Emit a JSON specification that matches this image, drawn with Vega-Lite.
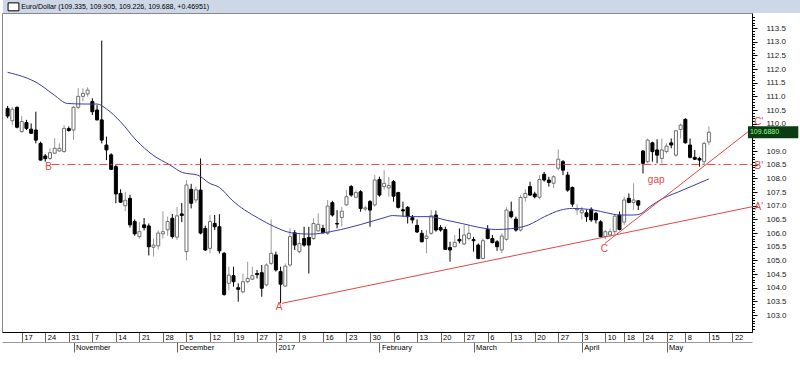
{
  "$schema": "https://vega.github.io/schema/vega-lite/v6.json",
  "width": 750,
  "height": 319,
  "autosize": {"type": "none"},
  "padding": {"top": 13, "left": 2, "right": 48, "bottom": 35},
  "background": "#ffffff",
  "config": {
    "view": {"stroke": "#888888", "strokeWidth": 1},
    "axis": {"labelFont": "Liberation Sans", "labelFontSize": 7.5, "labelColor": "#000000", "tickColor": "#000000", "domainColor": "#000000", "grid": false, "title": null}
  },
  "datasets": {
    "k": [
      {"i":0,"o":110.56,"h":110.65,"l":110.20,"c":110.28},
      {"i":1,"o":110.11,"h":110.62,"l":109.95,"c":110.53},
      {"i":2,"o":110.60,"h":110.63,"l":109.83,"c":109.87},
      {"i":3,"o":109.71,"h":110.28,"l":109.67,"c":110.08},
      {"i":4,"o":110.04,"h":110.14,"l":109.77,"c":109.83},
      {"i":5,"o":109.80,"h":110.01,"l":109.63,"c":109.65},
      {"i":6,"o":109.77,"h":110.44,"l":109.28,"c":109.40},
      {"i":7,"o":109.28,"h":109.34,"l":108.65,"c":108.67},
      {"i":8,"o":108.82,"h":108.89,"l":108.61,"c":108.72},
      {"i":9,"o":108.73,"h":109.10,"l":108.67,"c":108.94},
      {"i":10,"o":108.92,"h":109.47,"l":108.90,"c":109.10},
      {"i":11,"o":109.00,"h":109.28,"l":108.98,"c":109.10},
      {"i":12,"o":108.98,"h":109.95,"l":108.94,"c":109.83},
      {"i":13,"o":109.82,"h":109.90,"l":109.71,"c":109.75},
      {"i":14,"o":109.77,"h":110.65,"l":109.41,"c":110.60},
      {"i":15,"o":110.60,"h":111.30,"l":110.53,"c":111.00},
      {"i":16,"o":111.00,"h":111.30,"l":110.81,"c":111.11},
      {"i":17,"o":111.09,"h":111.33,"l":110.99,"c":111.23},
      {"i":18,"o":110.81,"h":110.93,"l":110.32,"c":110.44},
      {"i":19,"o":110.50,"h":110.68,"l":110.12,"c":110.14},
      {"i":20,"o":110.14,"h":113.04,"l":109.28,"c":109.40},
      {"i":21,"o":109.22,"h":109.53,"l":108.67,"c":109.04},
      {"i":22,"o":108.86,"h":108.92,"l":108.31,"c":108.33},
      {"i":23,"o":108.43,"h":108.49,"l":107.09,"c":107.43},
      {"i":24,"o":107.45,"h":107.60,"l":107.10,"c":107.13},
      {"i":25,"o":107.00,"h":107.50,"l":106.80,"c":107.20},
      {"i":26,"o":107.27,"h":107.40,"l":106.20,"c":106.30},
      {"i":27,"o":106.42,"h":106.50,"l":105.90,"c":105.97},
      {"i":28,"o":105.87,"h":106.40,"l":105.80,"c":106.05},
      {"i":29,"o":106.30,"h":106.55,"l":106.10,"c":106.20},
      {"i":30,"o":106.26,"h":106.35,"l":105.18,"c":105.50},
      {"i":31,"o":105.48,"h":105.80,"l":105.14,"c":105.56},
      {"i":32,"o":105.53,"h":106.10,"l":105.40,"c":106.00},
      {"i":33,"o":105.97,"h":106.80,"l":105.80,"c":106.05},
      {"i":34,"o":106.12,"h":106.60,"l":105.90,"c":106.42},
      {"i":35,"o":106.54,"h":106.70,"l":105.80,"c":105.87},
      {"i":36,"o":105.85,"h":106.95,"l":105.75,"c":106.63},
      {"i":37,"o":106.70,"h":107.10,"l":106.40,"c":106.64},
      {"i":38,"o":105.32,"h":107.94,"l":105.00,"c":107.76},
      {"i":39,"o":107.60,"h":107.80,"l":106.90,"c":107.09},
      {"i":40,"o":107.21,"h":107.70,"l":107.10,"c":107.58},
      {"i":41,"o":107.57,"h":108.73,"l":105.95,"c":106.00},
      {"i":42,"o":106.17,"h":106.27,"l":105.35,"c":105.38},
      {"i":43,"o":105.44,"h":106.66,"l":105.26,"c":106.42},
      {"i":44,"o":106.35,"h":106.66,"l":106.11,"c":106.23},
      {"i":45,"o":106.23,"h":106.69,"l":105.25,"c":105.35},
      {"i":46,"o":105.26,"h":105.30,"l":103.71,"c":103.75},
      {"i":47,"o":104.16,"h":104.77,"l":103.91,"c":104.46},
      {"i":48,"o":104.44,"h":104.77,"l":104.04,"c":104.22},
      {"i":49,"o":104.00,"h":104.16,"l":103.49,"c":103.94},
      {"i":50,"o":103.85,"h":104.52,"l":103.79,"c":104.22},
      {"i":51,"o":104.22,"h":104.95,"l":104.16,"c":104.34},
      {"i":52,"o":104.31,"h":104.77,"l":104.28,"c":104.44},
      {"i":53,"o":104.52,"h":104.65,"l":104.34,"c":104.48},
      {"i":54,"o":104.55,"h":104.83,"l":103.67,"c":103.98},
      {"i":55,"o":104.10,"h":104.89,"l":104.04,"c":104.83},
      {"i":56,"o":104.89,"h":106.50,"l":104.83,"c":105.26},
      {"i":57,"o":105.20,"h":105.32,"l":104.59,"c":104.65},
      {"i":58,"o":104.59,"h":104.77,"l":103.43,"c":104.13},
      {"i":59,"o":104.06,"h":104.89,"l":104.04,"c":104.79},
      {"i":60,"o":104.83,"h":106.17,"l":104.77,"c":105.87},
      {"i":61,"o":106.01,"h":106.11,"l":105.38,"c":105.56},
      {"i":62,"o":105.32,"h":105.99,"l":105.26,"c":105.62},
      {"i":63,"o":105.80,"h":106.23,"l":105.50,"c":105.56},
      {"i":64,"o":105.84,"h":106.23,"l":104.52,"c":105.56},
      {"i":65,"o":105.80,"h":106.54,"l":105.74,"c":106.35},
      {"i":66,"o":106.08,"h":106.72,"l":106.05,"c":106.32},
      {"i":67,"o":106.17,"h":106.30,"l":105.99,"c":106.01},
      {"i":68,"o":105.99,"h":107.21,"l":105.93,"c":106.99},
      {"i":69,"o":107.11,"h":107.18,"l":106.60,"c":106.66},
      {"i":70,"o":106.35,"h":106.84,"l":106.17,"c":106.33},
      {"i":71,"o":106.57,"h":106.96,"l":106.23,"c":106.80},
      {"i":72,"o":107.03,"h":107.57,"l":107.00,"c":107.33},
      {"i":73,"o":107.70,"h":107.76,"l":107.33,"c":107.39},
      {"i":74,"o":107.31,"h":107.57,"l":107.27,"c":107.48},
      {"i":75,"o":107.51,"h":107.57,"l":106.78,"c":106.90},
      {"i":76,"o":106.88,"h":107.00,"l":106.80,"c":106.92},
      {"i":77,"o":107.15,"h":107.21,"l":106.23,"c":106.84},
      {"i":78,"o":107.03,"h":108.12,"l":106.96,"c":107.94},
      {"i":79,"o":107.96,"h":108.06,"l":107.33,"c":107.39},
      {"i":80,"o":107.70,"h":108.30,"l":107.58,"c":107.82},
      {"i":81,"o":107.65,"h":108.05,"l":107.33,"c":107.74},
      {"i":82,"o":107.88,"h":107.94,"l":107.15,"c":107.35},
      {"i":83,"o":107.48,"h":107.51,"l":106.90,"c":106.94},
      {"i":84,"o":106.85,"h":107.15,"l":106.60,"c":106.81},
      {"i":85,"o":106.94,"h":106.99,"l":106.35,"c":106.60},
      {"i":86,"o":106.56,"h":106.66,"l":106.35,"c":106.48},
      {"i":87,"o":106.28,"h":106.50,"l":106.00,"c":106.04},
      {"i":88,"o":105.99,"h":106.11,"l":105.66,"c":105.68},
      {"i":89,"o":105.80,"h":106.11,"l":105.26,"c":105.89},
      {"i":90,"o":105.99,"h":106.84,"l":105.93,"c":106.63},
      {"i":91,"o":106.66,"h":106.82,"l":106.05,"c":106.11},
      {"i":92,"o":106.20,"h":106.29,"l":106.05,"c":106.11},
      {"i":93,"o":106.13,"h":106.23,"l":105.38,"c":105.40},
      {"i":94,"o":105.47,"h":105.68,"l":104.95,"c":105.38},
      {"i":95,"o":105.50,"h":105.93,"l":105.48,"c":105.66},
      {"i":96,"o":105.77,"h":106.17,"l":105.62,"c":105.71},
      {"i":97,"o":105.60,"h":106.29,"l":105.56,"c":105.93},
      {"i":98,"o":105.80,"h":106.29,"l":105.74,"c":105.99},
      {"i":99,"o":105.76,"h":105.86,"l":105.32,"c":105.72},
      {"i":100,"o":105.56,"h":105.62,"l":105.04,"c":105.07},
      {"i":101,"o":105.07,"h":105.80,"l":105.04,"c":105.72},
      {"i":102,"o":106.13,"h":106.29,"l":105.77,"c":105.80},
      {"i":103,"o":105.80,"h":105.93,"l":105.62,"c":105.65},
      {"i":104,"o":105.68,"h":105.74,"l":105.35,"c":105.50},
      {"i":105,"o":105.38,"h":105.99,"l":105.26,"c":105.89},
      {"i":106,"o":105.77,"h":106.94,"l":105.72,"c":106.84},
      {"i":107,"o":106.78,"h":107.15,"l":106.54,"c":106.60},
      {"i":108,"o":106.51,"h":106.60,"l":106.05,"c":106.11},
      {"i":109,"o":106.11,"h":107.40,"l":106.05,"c":107.30},
      {"i":110,"o":107.30,"h":107.60,"l":107.15,"c":107.45},
      {"i":111,"o":107.70,"h":107.88,"l":107.36,"c":107.39},
      {"i":112,"o":107.43,"h":107.51,"l":107.27,"c":107.33},
      {"i":113,"o":107.31,"h":108.12,"l":107.23,"c":107.96},
      {"i":114,"o":108.15,"h":108.24,"l":107.88,"c":107.94},
      {"i":115,"o":107.94,"h":108.06,"l":107.70,"c":107.85},
      {"i":116,"o":107.82,"h":108.12,"l":107.64,"c":108.06},
      {"i":117,"o":108.37,"h":109.06,"l":108.30,"c":108.70},
      {"i":118,"o":108.61,"h":108.67,"l":108.12,"c":108.30},
      {"i":119,"o":108.12,"h":108.24,"l":107.51,"c":107.57},
      {"i":120,"o":107.67,"h":107.70,"l":106.96,"c":107.06},
      {"i":121,"o":106.85,"h":107.05,"l":106.66,"c":106.89},
      {"i":122,"o":106.74,"h":106.96,"l":106.50,"c":106.84},
      {"i":123,"o":106.74,"h":106.86,"l":106.41,"c":106.60},
      {"i":124,"o":106.87,"h":106.94,"l":106.41,"c":106.48},
      {"i":125,"o":106.72,"h":106.78,"l":106.35,"c":106.48},
      {"i":126,"o":106.41,"h":106.47,"l":105.84,"c":105.87},
      {"i":127,"o":105.87,"h":106.11,"l":105.77,"c":106.05},
      {"i":128,"o":105.93,"h":106.17,"l":105.87,"c":106.05},
      {"i":129,"o":106.05,"h":106.70,"l":105.96,"c":106.62},
      {"i":130,"o":106.66,"h":106.79,"l":106.10,"c":106.13},
      {"i":131,"o":106.40,"h":107.33,"l":106.30,"c":107.21},
      {"i":132,"o":107.27,"h":107.45,"l":107.09,"c":107.12},
      {"i":133,"o":107.12,"h":107.82,"l":106.85,"c":107.21},
      {"i":134,"o":107.18,"h":107.21,"l":106.84,"c":107.02},
      {"i":135,"o":109.00,"h":109.04,"l":108.18,"c":108.55},
      {"i":136,"o":108.61,"h":109.46,"l":108.55,"c":109.40},
      {"i":137,"o":109.30,"h":109.34,"l":108.61,"c":108.98},
      {"i":138,"o":109.04,"h":109.43,"l":108.55,"c":108.85},
      {"i":139,"o":108.73,"h":109.46,"l":108.55,"c":109.04},
      {"i":140,"o":108.98,"h":109.28,"l":108.91,"c":109.18},
      {"i":141,"o":109.30,"h":109.46,"l":109.10,"c":109.22},
      {"i":142,"o":108.85,"h":109.77,"l":108.79,"c":109.74},
      {"i":143,"o":109.79,"h":110.01,"l":109.46,"c":109.95},
      {"i":144,"o":110.16,"h":110.20,"l":109.28,"c":109.30},
      {"i":145,"o":109.22,"h":109.46,"l":108.73,"c":108.77},
      {"i":146,"o":108.77,"h":109.04,"l":108.67,"c":108.70},
      {"i":147,"o":108.73,"h":108.79,"l":108.43,"c":108.67},
      {"i":148,"o":108.61,"h":109.34,"l":108.49,"c":109.28},
      {"i":149,"o":109.335,"h":109.905,"l":109.226,"c":109.688}
    ],
    "ma": [
      {"i":0,"v":111.88},{"i":6.4,"v":111.48},{"i":9.9,"v":111.05},{"i":12.7,"v":110.74},{"i":16.2,"v":110.72},
      {"i":19.0,"v":110.72},{"i":21.0,"v":110.54},{"i":24.0,"v":110.07},{"i":27.3,"v":109.40},{"i":30.9,"v":108.85},
      {"i":34.5,"v":108.49},{"i":37.2,"v":108.21},{"i":40.4,"v":108.12},{"i":42.9,"v":107.82},{"i":45.0,"v":107.67},
      {"i":47.7,"v":107.20},{"i":50.4,"v":106.84},{"i":53.3,"v":106.54},{"i":56.7,"v":106.23},{"i":60.3,"v":106.01},
      {"i":64.4,"v":105.96},{"i":68.6,"v":106.05},{"i":72.8,"v":106.21},{"i":77.0,"v":106.41},{"i":80.2,"v":106.57},
      {"i":81.8,"v":106.64},{"i":86.0,"v":106.60},{"i":89.6,"v":106.60},{"i":93.2,"v":106.47},{"i":96.5,"v":106.35},
      {"i":100.1,"v":106.21},{"i":103.7,"v":106.13},{"i":107.0,"v":106.16},{"i":110.6,"v":106.29},{"i":114.1,"v":106.60},
      {"i":117.5,"v":106.84},{"i":120.0,"v":106.90},{"i":124.6,"v":106.84},{"i":127.3,"v":106.74},{"i":130.1,"v":106.66},
      {"i":133.0,"v":106.66},{"i":134.3,"v":106.69},{"i":136.4,"v":106.96},{"i":139.3,"v":107.27},{"i":142.6,"v":107.51},
      {"i":145.6,"v":107.73},{"i":149.0,"v":107.98}
    ],
    "tl": [
      {"n":"A","i":58.3,"v":103.43},{"n":"A","i":158.4,"v":106.97},
      {"n":"C","i":126.9,"v":105.62},{"n":"C","i":158.4,"v":109.85}
    ],
    "tb": [
      {"n":"B","i":9.3,"v":108.51},{"n":"B","i":158.4,"v":108.51}
    ],
    "lab": [
      {"t":"A","i":57.7,"v":103.31},
      {"t":"B","i":8.7,"v":108.43},
      {"t":"C","i":126.8,"v":105.43},
      {"t":"A'","i":159.6,"v":106.97},
      {"t":"B'","i":159.6,"v":108.45},
      {"t":"C'","i":159.6,"v":110.05},
      {"t":"gap","i":137.8,"v":107.94}
    ]
  },
  "resolve": {"axis": {"x": "independent", "y": "independent"}},
  "layer": [
    {
      "data": {"values": [{"bar": 1}]},
      "mark": {"type": "rect", "color": "#cdd7e5"},
      "encoding": {
        "x": {"datum": -1, "type": "quantitative", "scale": {"domain": [-0.13, 157.1], "nice": false, "zero": false}, "axis": null},
        "x2": {"datum": 170},
        "y": {"datum": 114.05, "type": "quantitative", "scale": {"domain": [102.38, 114.05], "nice": false, "zero": false}, "axis": null},
        "y2": {"datum": 114.8}
      }
    },
    {
      "data": {"values": [{"box": 1}]},
      "mark": {"type": "rect", "fill": "#ffffff", "stroke": "#000000", "strokeWidth": 1},
      "encoding": {
        "x": {"datum": 0.1, "type": "quantitative", "scale": {"domain": [-0.13, 157.1], "nice": false, "zero": false}, "axis": null},
        "x2": {"datum": 2.4},
        "y": {"datum": 114.42, "type": "quantitative", "scale": {"domain": [102.38, 114.05], "nice": false, "zero": false}, "axis": null},
        "y2": {"datum": 114.13}
      }
    },
    {
      "data": {"values": [{"t": "Euro/Dollar (109.335, 109.905, 109.226, 109.688, +0.46951)"}]},
      "mark": {"type": "text", "color": "#000000", "fontSize": 7, "font": "Liberation Sans", "align": "left", "baseline": "middle"},
      "encoding": {
        "x": {"datum": 2.9, "type": "quantitative", "scale": {"domain": [-0.13, 157.1], "nice": false, "zero": false}, "axis": null},
        "y": {"datum": 114.28, "type": "quantitative", "scale": {"domain": [102.38, 114.05], "nice": false, "zero": false}, "axis": null},
        "text": {"field": "t"}
      }
    },
    {
      "data": {"name": "k"},
      "mark": {"type": "rule", "strokeWidth": 1},
      "encoding": {
        "x": {"field": "i", "type": "quantitative", "scale": {"domain": [-0.13, 157.1], "nice": false, "zero": false},
          "axis": {"orient": "bottom", "values": [-2,3,8,13,18,23,28,33,38,43,48,53,57,62,67,72,77,82,87,92,97,102,107,112,117,122,127,131,135,140,144,149,154,159],
            "labelExpr": "['10','17','24','31','7','14','21','28','5','12','19','27','2','9','16','23','30','6','13','20','27','6','13','20','27','3','10','18','24','2','8','15','22','29'][indexof([-2,3,8,13,18,23,28,33,38,43,48,53,57,62,67,72,77,82,87,92,97,102,107,112,117,122,127,131,135,140,144,149,154,159], datum.value)]",
            "tickSize": 10, "tickColor": "#666666", "labelAlign": "left", "labelBaseline": "top", "labelPadding": -9, "labelOffset": 2, "labelOverlap": false, "labelFlush": false}},
        "y": {"field": "l", "type": "quantitative", "scale": {"domain": [102.38, 114.05], "nice": false, "zero": false},
          "axis": {"orient": "right", "values": [103,103.5,104,104.5,105,105.5,106,106.5,107,107.5,108,108.5,109,109.5,110,110.5,111,111.5,112,112.5,113,113.5],
            "labelExpr": "datum.value == 109.5 ? '' : format(datum.value, '.1f')", "tickSize": 5, "labelPadding": 9, "labelFontSize": 8, "labelColor": "#222222", "labelOverlap": false}},
        "y2": {"field": "h"},
        "color": {"condition": {"test": "datum.c >= datum.o", "value": "#9a9a9a"}, "value": "#000000"}
      }
    },
    {
      "data": {"name": "k"},
      "mark": {"type": "bar", "width": 3, "strokeWidth": 1},
      "encoding": {
        "x": {"field": "i", "type": "quantitative", "scale": {"domain": [-0.13, 157.1], "nice": false, "zero": false},
          "axis": {"orient": "bottom", "offset": 10, "values": [14,36,57,79,99,122,140],
            "labelExpr": "['November','December','2017','February','March','April','May'][indexof([14,36,57,79,99,122,140], datum.value)]",
            "tickSize": 10, "tickColor": "#666666", "domainColor": "#999999", "labelAlign": "left", "labelBaseline": "top", "labelPadding": -9, "labelOffset": 2, "labelOverlap": false, "labelFlush": false}},
        "y": {"field": "o", "type": "quantitative", "scale": {"domain": [102.38, 114.05], "nice": false, "zero": false},
          "axis": {"orient": "right", "values": [102.5,102.6,102.7,102.8,102.9,103.1,103.2,103.3,103.4,103.6,103.7,103.8,103.9,104.1,104.2,104.3,104.4,104.6,104.7,104.8,104.9,105.1,105.2,105.3,105.4,105.6,105.7,105.8,105.9,106.1,106.2,106.3,106.4,106.6,106.7,106.8,106.9,107.1,107.2,107.3,107.4,107.6,107.7,107.8,107.9,108.1,108.2,108.3,108.4,108.6,108.7,108.8,108.9,109.1,109.2,109.3,109.4,109.6,109.7,109.8,109.9,110.1,110.2,110.3,110.4,110.6,110.7,110.8,110.9,111.1,111.2,111.3,111.4,111.6,111.7,111.8,111.9,112.1,112.2,112.3,112.4,112.6,112.7,112.8,112.9,113.1,113.2,113.3,113.4,113.6,113.7,113.8,113.9], "tickSize": 2.5, "labels": false, "domain": false}},
        "y2": {"field": "c"},
        "fill": {"condition": {"test": "datum.c >= datum.o", "value": "#ffffff"}, "value": "#000000"},
        "stroke": {"condition": {"test": "datum.c >= datum.o", "value": "#6e6e6e"}, "value": "#000000"}
      }
    },
    {
      "data": {"name": "ma"},
      "mark": {"type": "line", "color": "#3b3ba6", "strokeWidth": 1, "interpolate": "monotone"},
      "encoding": {
        "x": {"field": "i", "type": "quantitative", "scale": {"domain": [-0.13, 157.1], "nice": false, "zero": false}, "axis": null},
        "y": {"field": "v", "type": "quantitative", "scale": {"domain": [102.38, 114.05], "nice": false, "zero": false}, "axis": null}
      }
    },
    {
      "data": {"name": "tl"},
      "mark": {"type": "line", "color": "#e04848", "strokeWidth": 1, "clip": false},
      "encoding": {
        "x": {"field": "i", "type": "quantitative", "scale": {"domain": [-0.13, 157.1], "nice": false, "zero": false}, "axis": null},
        "y": {"field": "v", "type": "quantitative", "scale": {"domain": [102.38, 114.05], "nice": false, "zero": false}, "axis": null},
        "detail": {"field": "n"}
      }
    },
    {
      "data": {"name": "tb"},
      "mark": {"type": "line", "color": "#e04848", "strokeWidth": 1, "strokeDash": [8, 3, 2, 3], "clip": false},
      "encoding": {
        "x": {"field": "i", "type": "quantitative", "scale": {"domain": [-0.13, 157.1], "nice": false, "zero": false}, "axis": null},
        "y": {"field": "v", "type": "quantitative", "scale": {"domain": [102.38, 114.05], "nice": false, "zero": false}, "axis": null}
      }
    },
    {
      "data": {"name": "lab"},
      "mark": {"type": "text", "color": "#e04848", "fontSize": 10, "font": "Liberation Sans", "align": "center", "baseline": "middle"},
      "encoding": {
        "x": {"field": "i", "type": "quantitative", "scale": {"domain": [-0.13, 157.1], "nice": false, "zero": false}, "axis": null},
        "y": {"field": "v", "type": "quantitative", "scale": {"domain": [102.38, 114.05], "nice": false, "zero": false}, "axis": null},
        "text": {"field": "t"}
      }
    },
    {
      "data": {"name": "k"},
      "transform": [{"filter": "datum.i == 149"}],
      "mark": {"type": "rect", "color": "#0b3d12", "yOffset": -6, "y2Offset": 6},
      "encoding": {
        "x": {"datum": 157.3, "type": "quantitative", "scale": {"domain": [-0.13, 157.1], "nice": false, "zero": false}, "axis": null},
        "x2": {"datum": 168},
        "y": {"field": "c", "type": "quantitative", "scale": {"domain": [102.38, 114.05], "nice": false, "zero": false}, "axis": null},
        "y2": {"field": "c"}
      }
    },
    {
      "data": {"name": "k"},
      "transform": [{"filter": "datum.i == 149"}],
      "mark": {"type": "text", "color": "#8cff8c", "fontSize": 7, "font": "Liberation Sans", "align": "left", "baseline": "middle", "dx": 2},
      "encoding": {
        "x": {"datum": 157.3, "type": "quantitative", "scale": {"domain": [-0.13, 157.1], "nice": false, "zero": false}, "axis": null},
        "y": {"field": "c", "type": "quantitative", "scale": {"domain": [102.38, 114.05], "nice": false, "zero": false}, "axis": null},
        "text": {"value": "109.6880"}
      }
    }
  ]
}
